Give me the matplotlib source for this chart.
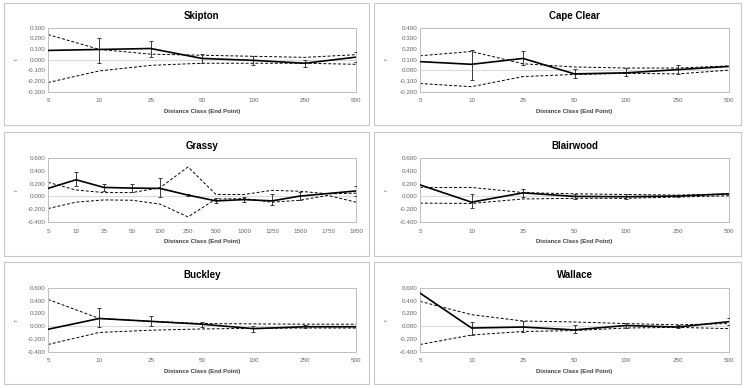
import numpy as np
import matplotlib
matplotlib.use("Agg")
import matplotlib.pyplot as plt
from matplotlib.patches import Rectangle

plt.rcParams['font.family'] = ['Liberation Sans', 'DejaVu Sans']

nan = np.nan

# distance classes (end point)
cats_std = ['5', '10', '25', '50', '100', '250', '500']
cats_grassy = ['5', '10', '25', '50', '100', '250', '500', '1000', '1250', '1500', '1750', '1950']

# Skipton
skipton_r = [0.085, 0.094, 0.103, 0.010, -0.008, -0.035, 0.022]
skipton_hi = [nan, 0.206, 0.178, 0.050, 0.035, -0.005, 0.070]
skipton_lo = [nan, -0.032, 0.019, -0.035, -0.050, -0.068, -0.020]
skipton_up = [0.234, 0.095, 0.050, 0.040, 0.030, 0.020, 0.045]
skipton_low = [-0.216, -0.107, -0.055, -0.035, -0.035, -0.035, -0.045]

# Cape Clear
cape_r = [0.080, 0.055, 0.110, -0.035, -0.025, 0.005, 0.035]
cape_hi = [nan, 0.190, 0.177, 0.010, 0.020, 0.048, nan]
cape_lo = [nan, -0.095, 0.045, -0.070, -0.055, -0.035, nan]
cape_up = [0.135, 0.175, 0.060, 0.030, 0.020, 0.020, 0.040]
cape_low = [-0.125, -0.155, -0.060, -0.040, -0.030, -0.035, 0.000]

# Grassy
grassy_r = [0.125, 0.260, 0.140, 0.130, 0.125, 0.020, -0.070, -0.050, -0.070, 0.005, 0.045, 0.085]
grassy_hi = [nan, 0.380, 0.200, 0.200, 0.295, 0.030, -0.025, -0.015, 0.030, 0.070, nan, 0.155]
grassy_lo = [nan, 0.155, 0.080, 0.070, -0.010, 0.010, -0.100, -0.080, -0.140, -0.050, nan, 0.005]
grassy_up = [0.220, 0.100, 0.060, 0.060, 0.135, 0.460, 0.030, 0.030, 0.095, 0.080, 0.040, 0.050]
grassy_low = [-0.190, -0.090, -0.055, -0.060, -0.120, -0.320, -0.040, -0.035, -0.090, -0.060, 0.015, -0.090]

# Blairwood
blair_r = [0.180, -0.090, 0.055, 0.000, -0.005, 0.005, 0.040]
blair_hi = [nan, 0.045, 0.110, 0.030, 0.030, 0.025, nan]
blair_lo = [nan, -0.180, -0.005, -0.035, -0.035, -0.015, nan]
blair_up = [0.140, 0.140, 0.060, 0.040, 0.030, 0.020, 0.040]
blair_low = [-0.105, -0.110, -0.040, -0.030, -0.030, -0.010, 0.010]

# Buckley
buck_r = [-0.050, 0.120, 0.075, 0.030, -0.040, -0.010, -0.010]
buck_hi = [nan, 0.280, 0.155, 0.065, -0.005, 0.010, nan]
buck_lo = [nan, -0.020, -0.005, -0.015, -0.090, -0.030, nan]
buck_up = [0.420, 0.120, 0.075, 0.040, 0.035, 0.030, 0.030]
buck_low = [-0.290, -0.100, -0.065, -0.045, -0.035, -0.030, -0.030]

# Wallace
wall_r = [0.520, -0.030, -0.015, -0.060, 0.010, -0.015, 0.070]
wall_hi = [nan, 0.060, 0.080, 0.025, 0.055, 0.010, 0.120]
wall_lo = [nan, -0.140, -0.090, -0.115, -0.030, -0.035, 0.020]
wall_up = [0.390, 0.180, 0.080, 0.065, 0.040, 0.020, 0.040]
wall_low = [-0.290, -0.140, -0.085, -0.070, -0.030, -0.020, -0.040]

panels = [
    ('Skipton', cats_std, skipton_r, skipton_hi, skipton_lo, skipton_up, skipton_low, (-0.3, 0.3, 0.1)),
    ('Cape Clear', cats_std, cape_r, cape_hi, cape_lo, cape_up, cape_low, (-0.2, 0.4, 0.1)),
    ('Grassy', cats_grassy, grassy_r, grassy_hi, grassy_lo, grassy_up, grassy_low, (-0.4, 0.6, 0.2)),
    ('Blairwood', cats_std, blair_r, blair_hi, blair_lo, blair_up, blair_low, (-0.4, 0.6, 0.2)),
    ('Buckley', cats_std, buck_r, buck_hi, buck_lo, buck_up, buck_low, (-0.4, 0.6, 0.2)),
    ('Wallace', cats_std, wall_r, wall_hi, wall_lo, wall_up, wall_low, (-0.4, 0.6, 0.2)),
]

W, H = 744, 388
fig = plt.figure(figsize=(W / 100, H / 100), dpi=100)

# layout in pixels: panel boxes, plot areas
col_box = [(4, 369), (374, 741)]
col_plot = [(48, 356), (420, 729)]
row_box = [(3, 125), (132, 256), (262, 384)]
row_plot = [(27.5, 91.5), (158, 222), (288, 351.5)]
row_title = [15.7, 145.7, 275]
row_xtick = [100.7, 231.7, 360]
row_xlabel = [111.7, 242, 372]

grey = '#bfbfbf'
tick_col = '#666666'

for k, (name, cats, r, hi, lo, up, low, (ymin, ymax, step)) in enumerate(panels):
    row, col = divmod(k, 2)
    bx0, bx1 = col_box[col]
    by0, by1 = row_box[row]
    fig.patches.append(Rectangle((bx0 / W, 1 - by1 / H), (bx1 - bx0) / W, (by1 - by0) / H,
                                 transform=fig.transFigure, fill=False, edgecolor='#c8c8c8', lw=0.8))
    px0, px1 = col_plot[col]
    py0, py1 = row_plot[row]
    ax = fig.add_axes([px0 / W, 1 - py1 / H, (px1 - px0) / W, (py1 - py0) / H])

    x = np.arange(len(cats))
    r = np.array(r)
    hi = np.array(hi)
    lo = np.array(lo)
    ax.axhline(0, color='#d9d9d9', lw=0.8, zorder=1)
    ax.plot(x, up, color='black', lw=0.7, ls=(0, (3, 2)), zorder=2)
    ax.plot(x, low, color='black', lw=0.7, ls=(0, (3, 2)), zorder=2)
    m = ~np.isnan(hi)
    ax.errorbar(x[m], r[m], yerr=[r[m] - lo[m], hi[m] - r[m]], fmt='none',
                ecolor='#3a3a3a', elinewidth=0.7, capsize=1.3, capthick=0.7, zorder=3)
    ax.plot(x, r, color='black', lw=1.2, zorder=4)

    ax.set_xlim(0, len(cats) - 1)
    ax.set_ylim(ymin, ymax)
    yt = np.round(np.arange(ymin, ymax + step / 2, step), 3)
    ax.set_yticks(yt)
    ax.set_yticklabels([f'{v:.3f}' for v in yt], fontsize=4.5, color=tick_col)
    ax.set_xticks(x)
    ax.set_xticklabels([])
    ax.tick_params(length=0, pad=2)
    for s in ax.spines.values():
        s.set_color(grey)
        s.set_linewidth(0.7)

    for xi, c in zip(x, cats):
        xf = (px0 + (px1 - px0) * xi / (len(cats) - 1)) / W
        fig.text(xf, 1 - row_xtick[row] / H, c, fontsize=4.5, color=tick_col,
                 ha='center', va='center')

    fig.text((px0 + px1) / 2 / W, 1 - row_title[row] / H, name, fontsize=7,
             fontweight='bold', ha='center', va='center', color='black')
    fig.text((px0 + px1) / 2 / W, 1 - row_xlabel[row] / H, 'Distance Class (End Point)',
             fontsize=4.3, fontweight='bold', ha='center', va='center', color='#404040')
    fig.text((bx0 + 12) / W, 1 - (py0 + py1) / 2 / H, 'r', fontsize=4.3, style='italic',
             rotation=90, ha='center', va='center', color=tick_col)

fig.savefig('out.png', dpi=100)
